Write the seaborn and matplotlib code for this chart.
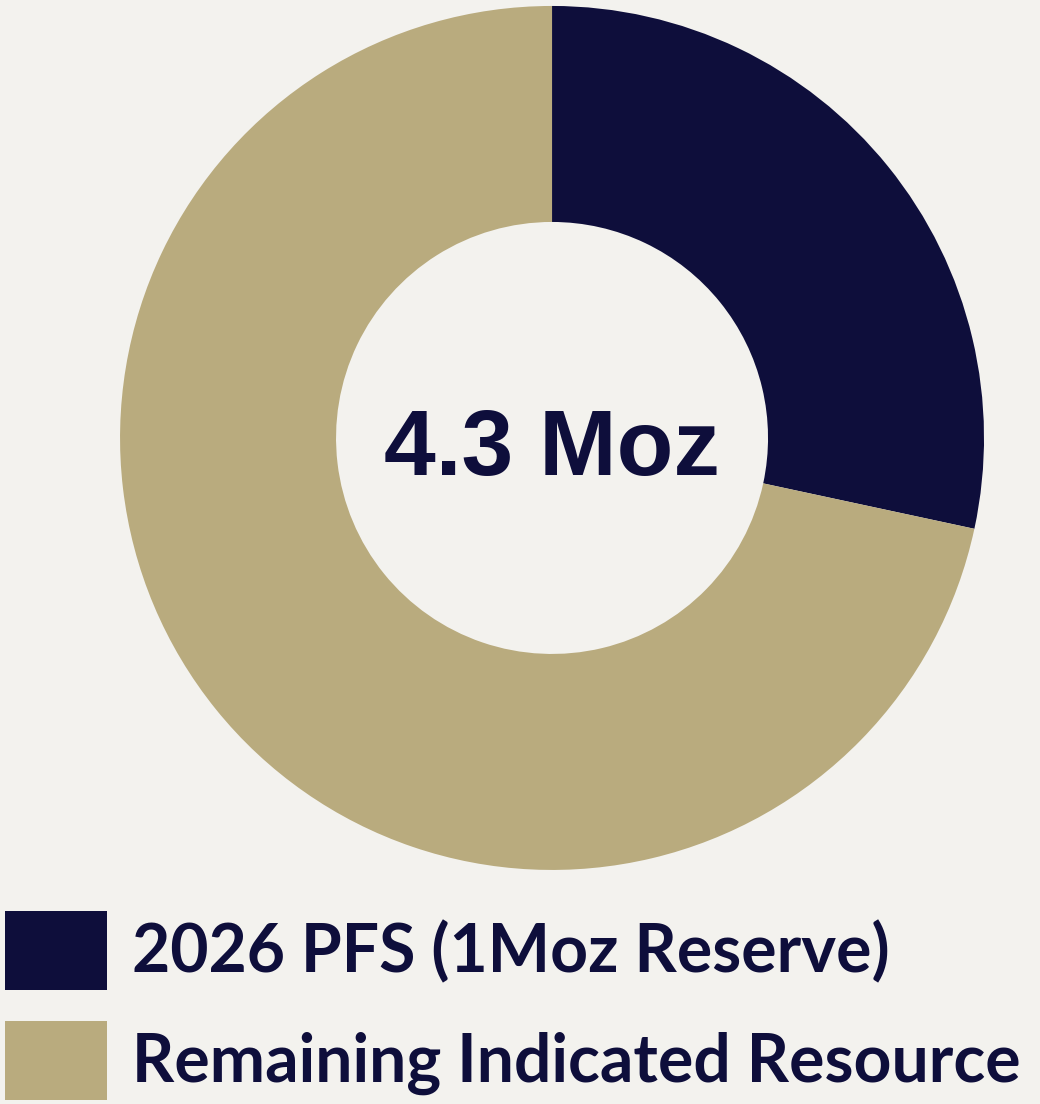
import matplotlib.pyplot as plt
import seaborn as sns

labels = ["2026 PFS (1Moz Reserve)", "Remaining Indicated Resource"]
values = [1.22, 3.08]
colors = ["#0e0e3b", "#b9ab7e"]
center_label = "4.3 Moz"

BG = "#f3f2ee"

sns.set_theme(style="white", rc={"figure.facecolor": BG, "axes.facecolor": BG})
plt.rcParams["font.family"] = ["Lato", "DejaVu Sans"]

fig = plt.figure(figsize=(10.4, 11.04), dpi=100)
ax = fig.add_axes([0.1154, 0.212, 0.8308, 0.7826])

wedges, _ = ax.pie(
    values,
    colors=colors,
    startangle=90,
    counterclock=False,
    radius=1,
    wedgeprops=dict(width=0.5, linewidth=0),
)
ax.set_xlim(-1, 1)
ax.set_ylim(-1, 1)
ax.set_aspect("equal")
ax.axis("off")

ax.text(0, -0.03, center_label, ha="center", va="center", fontsize=67,
        fontweight="bold", color=colors[0], family=["Liberation Sans", "DejaVu Sans"])

fig.legend(
    wedges,
    labels,
    loc="lower left",
    bbox_to_anchor=(0.005, 0.004),
    frameon=False,
    prop={"size": 47.5, "weight": "bold"},
    handlelength=1.545,
    handleheight=1.46,
    handletextpad=0.38,
    labelspacing=0.47,
    borderaxespad=0,
    borderpad=0,
    labelcolor=colors[0],
)

fig.savefig("out.png", dpi=100, facecolor=BG)
